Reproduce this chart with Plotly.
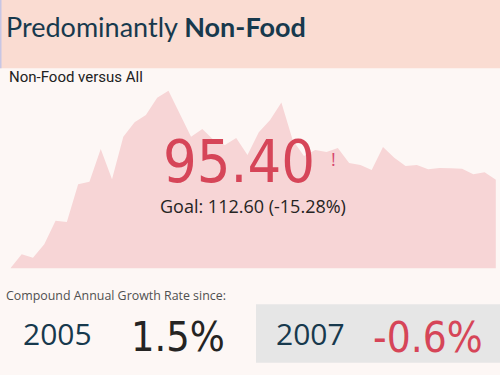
import plotly.graph_objects as go

# ---- data ----
periods = list(range(44))
ratio_values = [60.0, 65.6, 64.2, 69.6, 79.0, 78.5, 93.6, 94.6, 107.7, 95.6,
                112.6, 118.4, 121.3, 128.2, 131.0, 122.0, 112.6, 115.7, 111.3, 109.3,
                112.1, 105.3, 114.4, 119.3, 126.3, 111.3, 104.9, 107.3, 106.5, 108.1,
                102.1, 101.3, 99.3, 108.5, 104.2, 100.9, 101.3, 99.6, 100.1, 100.0,
                99.8, 97.6, 98.4, 95.4]
kpi_value = "95.40"
goal_text = "Goal: 112.60 (-15.28%)"
cagr_years = ["2005", "2007"]
cagr_values = ["1.5%", "-0.6%"]

W, H = 500, 375

def px(x):
    return x / W

def py(y):
    return 1 - y / H

NAVY = "#17394D"
RED = "#D64558"
SANS = "Open Sans, Noto Sans, sans-serif"
DIN = "Liberation Sans Narrow, DejaVu Sans Condensed, Roboto, sans-serif"

fig = go.Figure()
fig.add_trace(go.Scatter(
    x=periods, y=ratio_values, mode="lines", fill="tozeroy",
    line=dict(width=0, color="#F7D5D6"), fillcolor="#F7D5D6",
    hoverinfo="skip", showlegend=False,
))

shapes = [
    dict(type="rect", xref="paper", yref="paper", x0=0, x1=1, y0=py(68.3), y1=1,
         fillcolor="#FADCD2", line=dict(width=0), layer="below"),
    dict(type="rect", xref="paper", yref="paper", x0=0, x1=px(1.5), y0=py(68.3), y1=1,
         fillcolor="#C8C6E4", line=dict(width=0), layer="below"),
    dict(type="rect", xref="paper", yref="paper", x0=px(256), x1=1, y0=py(362.7), y1=py(304.3),
         fillcolor="#E6E6E6", line=dict(width=0), layer="below"),
]

ann = []
def A(text, x, y, size, color, family=SANS, xanchor="left", yanchor="middle"):
    ann.append(dict(text=text, x=px(x), y=py(y), xref="paper", yref="paper",
                    xanchor=xanchor, yanchor=yanchor, showarrow=False, borderpad=0,
                    font=dict(size=size, color=color, family=family)))

A("Predominantly <b>Non-Food</b>", 5, 26, 27, NAVY, family="Lato, Open Sans, sans-serif")
A("Non-Food versus All", 8, 77, 15, "#222222", family="Roboto, sans-serif")
A(kpi_value, 239, 162, 59, RED, family=DIN, xanchor="center")
A("!", 333, 159, 18, "#D6466E", family=SANS, xanchor="center")
A(goal_text, 253, 206, 18, "#252423", xanchor="center")
A("Compound Annual Growth Rate since:", 5, 295, 12.4, "#505050")
A(cagr_years[0], 57, 333, 30, NAVY, xanchor="center")
A(cagr_values[0], 178, 337, 41, "#252423", family=DIN, xanchor="center")
A(cagr_years[1], 310, 333, 30, NAVY, xanchor="center")
A(cagr_values[1], 428, 337, 42, RED, family=DIN, xanchor="center")

fig.update_layout(
    width=W, height=H, margin=dict(l=0, r=0, t=0, b=0),
    paper_bgcolor="#FDF7F5", plot_bgcolor="rgba(0,0,0,0)",
    shapes=shapes, annotations=ann, showlegend=False,
    xaxis=dict(domain=[px(10.4), px(495.9)], range=[0, 43], visible=False, fixedrange=True),
    yaxis=dict(domain=[py(268.3), py(88)], range=[60, 60 + (268.3 - 88) * 0.4],
               visible=False, fixedrange=True),
)

fig.write_html("out.html", config={"displayModeBar": False},
               post_script="document.body.style.margin='0';document.body.style.padding='0';")
